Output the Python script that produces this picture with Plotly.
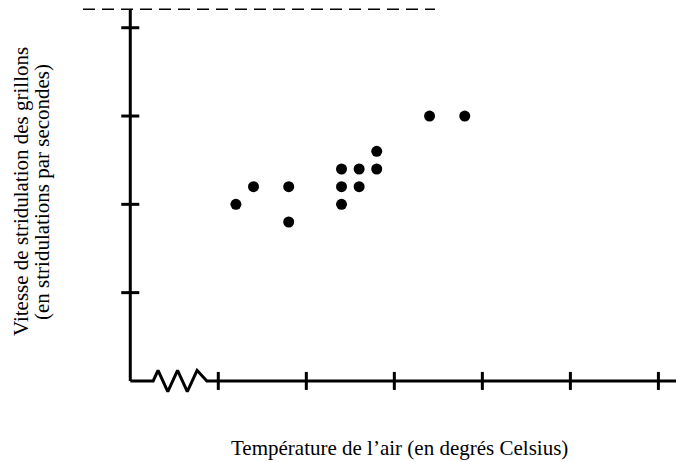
import plotly.graph_objects as go

# Cricket chirp rate vs. air temperature
temperature = [21, 22, 24, 24, 27, 27, 27, 28, 28, 29, 29, 32, 34]
chirp_rate = [10, 11, 11, 9, 12, 11, 10, 12, 11, 13, 12, 15, 15]

x_ticks = [20, 25, 30, 35, 40, 45]
y_ticks = [5, 10, 15, 20]

x_title = "Température de l’air (en degrés Celsius)"
y_title_1 = "Vitesse de stridulation des grillons"
y_title_2 = "(en stridulations par secondes)"

W, H = 676, 462
X0, Y0 = 15, 0          # axis origin (x axis is broken between X0 and first tick)
X_RANGE = [7.6, 46.0]
Y_RANGE = [-4.59, 21.57]
Y_TOP = 21.04
FONT = "Liberation Serif, Times New Roman, serif"
INK = "#000000"

fig = go.Figure()

# data points
fig.add_trace(go.Scatter(
    x=temperature, y=chirp_rate, mode="markers",
    marker=dict(size=11, color=INK), hoverinfo="x+y", showlegend=False,
))

# x axis with a zigzag break between the origin and the first tick
brk_start, brk_end = X0 + 1.3, X0 + 4.35
n_seg = 6
amp = 0.6
zx = [X0, brk_start]
zy = [Y0, Y0]
for i in range(1, n_seg):
    zx.append(brk_start + (brk_end - brk_start) * (i - 0.5) / n_seg * (n_seg / (n_seg - 0.5)))
    zy.append(Y0 + (amp if i % 2 == 1 else -amp))
zx += [brk_end, X_RANGE[1]]
zy += [Y0, Y0]
fig.add_trace(go.Scatter(
    x=zx, y=zy, mode="lines", line=dict(color=INK, width=3),
    hoverinfo="skip", showlegend=False,
))

shapes = []
# y axis line
shapes.append(dict(type="line", xref="x", yref="y", x0=X0, x1=X0, y0=Y0, y1=Y_TOP,
                   line=dict(color=INK, width=3)))
# x ticks (crossing the axis)
for t in x_ticks:
    shapes.append(dict(type="line", xref="x", yref="y", x0=t, x1=t,
                       ysizemode="pixel", yanchor=Y0, y0=-9, y1=9,
                       line=dict(color=INK, width=3)))
# y ticks (crossing the axis)
for t in y_ticks:
    shapes.append(dict(type="line", xref="x", yref="y", y0=t, y1=t,
                       xsizemode="pixel", xanchor=X0, x0=-9, x1=9,
                       line=dict(color=INK, width=3)))
# dashed guide along the top
shapes.append(dict(type="line", xref="paper", yref="y", x0=83 / W, x1=435 / W,
                   y0=Y_TOP, y1=Y_TOP,
                   line=dict(color=INK, width=1.5, dash="12px,7px")))

annotations = [
    dict(text=x_title, xref="paper", yref="paper", x=399 / W, y=1 - 448 / H,
         xanchor="center", yanchor="middle", showarrow=False,
         font=dict(family=FONT, size=21, color=INK)),
    dict(text=y_title_1, xref="paper", yref="paper", x=21 / W, y=1 - 192 / H,
         xanchor="center", yanchor="middle", showarrow=False, textangle=-90,
         font=dict(family=FONT, size=21, color=INK)),
    dict(text=y_title_2, xref="paper", yref="paper", x=42 / W, y=1 - 192 / H,
         xanchor="center", yanchor="middle", showarrow=False, textangle=-90,
         font=dict(family=FONT, size=21, color=INK)),
]

fig.update_layout(
    width=W, height=H,
    margin=dict(l=0, r=0, t=0, b=0),
    paper_bgcolor="white", plot_bgcolor="white",
    xaxis=dict(range=X_RANGE, visible=False, fixedrange=True),
    yaxis=dict(range=Y_RANGE, visible=False, fixedrange=True),
    shapes=shapes, annotations=annotations,
)

fig.write_html("out.html")
